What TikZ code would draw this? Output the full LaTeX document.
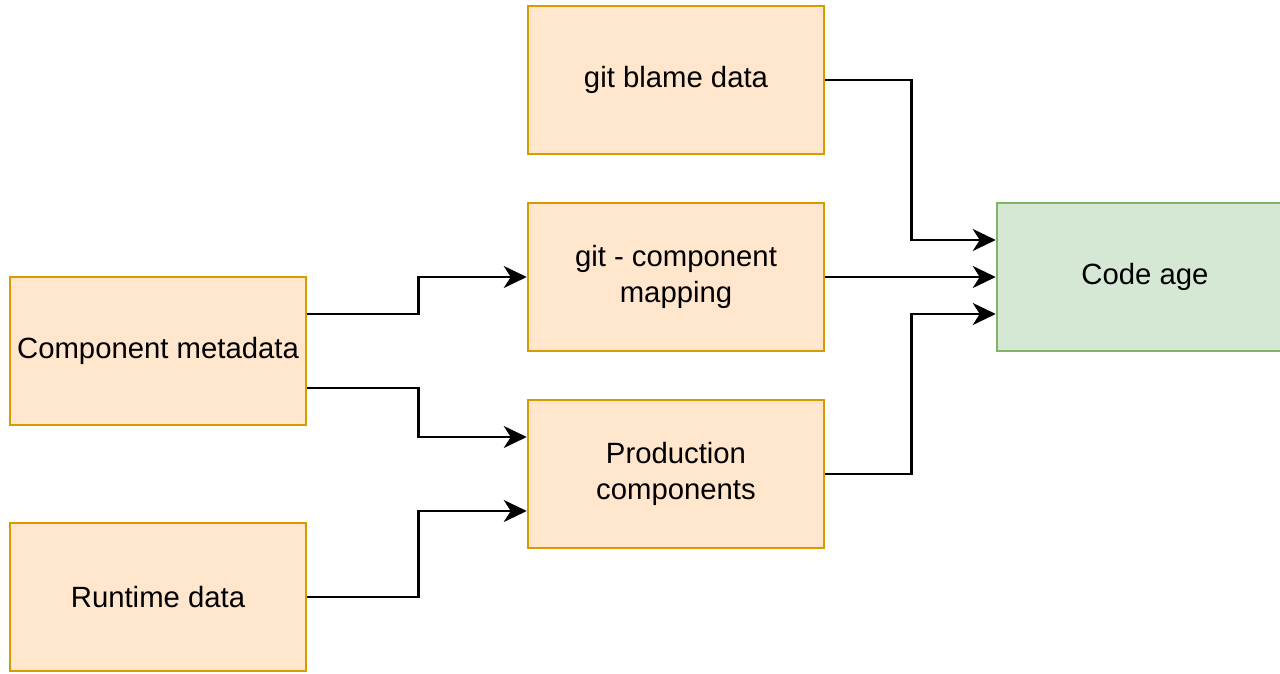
\documentclass[tikz,border=0pt]{standalone}
\usepackage{fontspec}
\setmainfont{Liberation Sans}
\usetikzlibrary{arrows.meta}
\definecolor{ofill}{HTML}{FFE6CC}
\definecolor{odraw}{HTML}{D79B00}
\definecolor{gfill}{HTML}{D5E8D4}
\definecolor{gdraw}{HTML}{82B366}
\tikzset{
  obox/.style={draw=odraw, fill=ofill, line width=2.5pt, minimum width=296pt, minimum height=148pt, align=center, inner sep=0pt, font=\fontsize{29.3}{36}\selectfont},
  gbox/.style={obox, draw=gdraw, fill=gfill},
  conn/.style={line width=2.5pt, -{Stealth[length=23pt, width=22pt, inset=7pt]}}
}
\begin{document}
\begin{tikzpicture}[x=1pt, y=-1pt]
\useasboundingbox (0,0) rectangle (1280,673);
\clip (0,0) rectangle (1280,673);
\node[obox] (blame) at (676,80) {git blame data};
\node[obox] (mapping) at (676,277) {git - component\\mapping};
\node[obox] (prod) at (676,474) {Production\\components};
\node[obox] (meta) at (158,351) {Component metadata};
\node[obox] (runtime) at (158,597) {Runtime data};
\node[gbox] (code) at (1145,277) {Code age};
\draw[conn] (blame.east) -- ++(86,0) |- ([yshift=37pt]code.west);
\draw[conn] (mapping.east) -- (code.west);
\draw[conn] (prod.east) -- ++(86,0) |- ([yshift=-37pt]code.west);
\draw[conn] ([yshift=37pt]meta.east) -- ++(111,0) |- (mapping.west);
\draw[conn] ([yshift=-37pt]meta.east) -- ++(111,0) |- ([yshift=37pt]prod.west);
\draw[conn] (runtime.east) -- ++(111,0) |- ([yshift=-37pt]prod.west);
\end{tikzpicture}
\end{document}
